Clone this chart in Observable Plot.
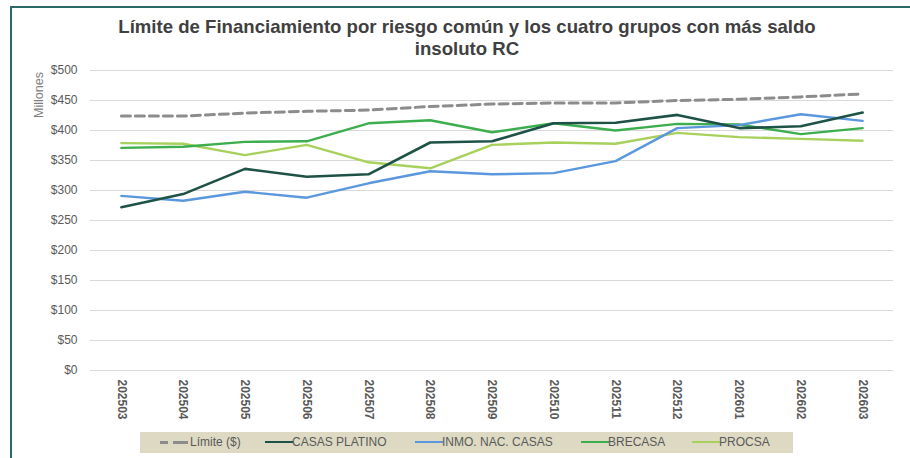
<!DOCTYPE html>
<html>
<head>
<meta charset="utf-8">
<script src="https://cdn.jsdelivr.net/npm/d3@7"></script>
<script src="https://cdn.jsdelivr.net/npm/@observablehq/plot@0.6"></script>
<style>
  html, body { margin: 0; padding: 0; background: #ffffff; }
  body { width: 910px; height: 458px; position: relative; overflow: hidden; font-family: "Liberation Sans", Arial, sans-serif; }
  #frame { position: absolute; left: 10px; top: 6px; width: 910px; height: 470px; border-left: 2px solid #2a6a68; border-top: 2px solid #2a6a68; }
  #title { position: absolute; left: 0; width: 934px; top: 16px; text-align: center; font-weight: bold; font-size: 18.6px; line-height: 22px; color: #404040; }
  #ylab { position: absolute; left: 39px; top: 95px; transform: translate(-50%, -50%) rotate(-90deg); font-size: 12.5px; color: #7f7f7f; white-space: nowrap; }
  #chart { position: absolute; left: 0; top: 0; }
  #chart svg text { fill: #595959; }
  #chart g[aria-label^="x-axis"] text { font-weight: bold; }
  #legend { position: absolute; left: 140px; top: 432px; width: 653px; height: 21px; background: #ddd9c3; font-size: 12px; color: #595959; }
  .item { position: absolute; top: 0; height: 21px; line-height: 21px; white-space: nowrap; }
  .sw { display: inline-block; width: 28px; height: 0; position: absolute; }
</style>
</head>
<body>
<div id="frame"></div>
<div id="chart"></div>
<div id="title">Límite de Financiamiento por riesgo común y los cuatro grupos con más saldo<br>insoluto RC</div>
<div id="ylab">Millones</div>
<div id="legend"></div>
<script>
const periods = ["202503","202504","202505","202506","202507","202508","202509","202510","202511","202512","202601","202602","202603"];
const limite        = [424, 424, 429, 432, 434, 440, 444, 446, 446, 450, 452, 456, 461];
const casasPlatino  = [272, 294, 336, 323, 327, 380, 382, 412, 413, 426, 404, 407, 430];
const inmoNacCasas  = [291, 283, 298, 288, 312, 332, 327, 329, 349, 404, 409, 427, 416];
const brecasa       = [371, 373, 381, 382, 412, 417, 397, 412, 400, 411, 410, 394, 404];
const procsa        = [379, 378, 359, 376, 347, 337, 376, 380, 378, 396, 389, 386, 383];
const yTicks = [0, 50, 100, 150, 200, 250, 300, 350, 400, 450, 500];

const seriesNames = ["Límite ($)", "CASAS PLATINO", "INMO. NAC. CASAS", "BRECASA", "PROCSA"];
const seriesValues = [limite, casasPlatino, inmoNacCasas, brecasa, procsa];
const seriesColors = ["#8c8c8c", "#1f5246", "#5b97dc", "#3dae4e", "#a8d05c"];
const seriesDash = ["9,5", null, null, null, null];
const seriesWidth = [3, 2.6, 2.4, 2.4, 2.4];

const rows = [];
seriesNames.forEach((name, i) => {
  periods.forEach((p, j) => rows.push({series: name, period: p, value: seriesValues[i][j]}));
});

const lineMarks = seriesNames.map((name, i) =>
  Plot.line(rows.filter(d => d.series === name), {
    x: "period", y: "value",
    stroke: seriesColors[i],
    strokeWidth: seriesWidth[i],
    strokeDasharray: seriesDash[i] || undefined
  })
);

const chart = Plot.plot({
  width: 910,
  height: 458,
  marginTop: 70,
  marginBottom: 88,
  marginLeft: 90,
  marginRight: 17,
  style: { fontFamily: "Liberation Sans, Arial, sans-serif", fontSize: "12px", background: "transparent", overflow: "visible" },
  x: { type: "point", domain: periods, padding: 0.5, round: false, tickRotate: 90, tickSize: 0, tickPadding: 9, label: null },
  y: { domain: [0, 500], ticks: yTicks, tickFormat: d => "$" + d, tickSize: 0, tickPadding: 13, label: null },
  marks: [
    Plot.ruleY(yTicks, { stroke: "#d9d9d9", strokeWidth: 1 }),
    ...lineMarks.reverse()
  ]
});
document.getElementById("chart").appendChild(chart);

// legend
const legendPos = [
  {sw: 20, tx: 50},
  {sw: 125, tx: 152},
  {sw: 275, tx: 302},
  {sw: 441, tx: 468},
  {sw: 552, tx: 579}
];
const legend = document.getElementById("legend");
seriesNames.forEach((name, i) => {
  const sw = document.createElement("span");
  sw.className = "sw";
  sw.style.left = legendPos[i].sw + "px";
  if (seriesDash[i]) {
    sw.style.height = "3px";
    sw.style.top = "9px";
    sw.style.background = `linear-gradient(to right, ${seriesColors[i]} 0 8px, transparent 8px 13px, ${seriesColors[i]} 13px 28px)`;
  } else {
    sw.style.top = "9px";
    sw.style.borderTop = "2.5px solid " + seriesColors[i];
  }
  legend.appendChild(sw);
  const t = document.createElement("span");
  t.className = "item";
  t.style.left = legendPos[i].tx + "px";
  t.textContent = name;
  legend.appendChild(t);
});
</script>
</body>
</html>
